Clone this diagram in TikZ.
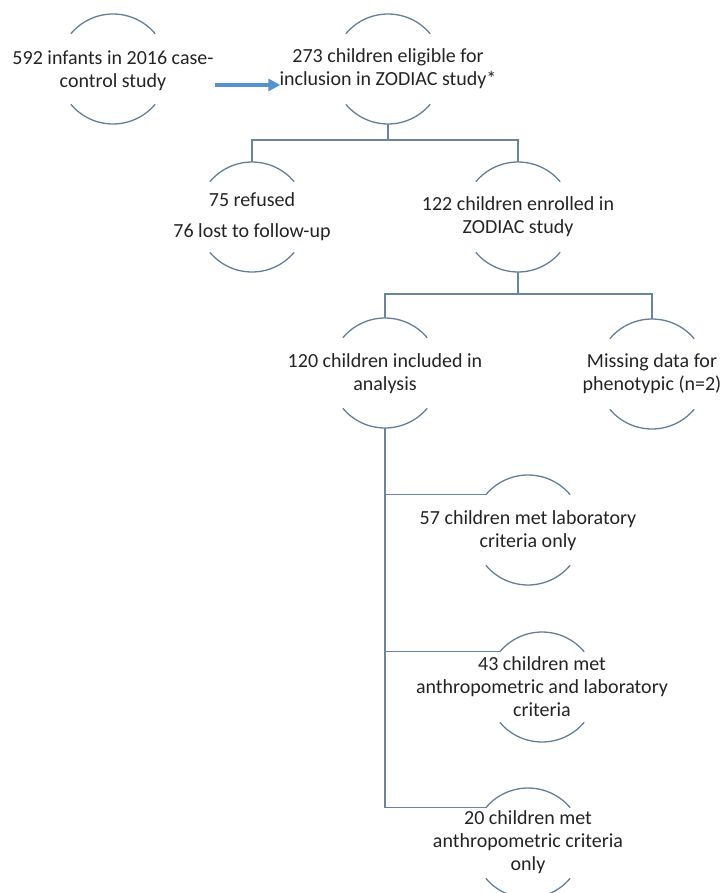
\documentclass[tikz,border=0pt]{standalone}
\usepackage{fontspec}
\setmainfont{Carlito}
\usetikzlibrary{arrows.meta}
\definecolor{linec}{RGB}{104,132,160}
\definecolor{arcc}{RGB}{100,126,152}
\definecolor{arrowc}{RGB}{84,146,208}
\definecolor{txtc}{RGB}{35,35,35}
\tikzset{
  ring/.style={circle,minimum size=110pt,inner sep=0pt,outer sep=0pt},
  lbl/.style={align=center,text=txtc,font=\fontsize{20}{23}\selectfont,inner sep=1pt},
  arcline/.style={draw=arcc,line width=1.3pt},
  conn/.style={draw=linec,line width=1.6pt},
  bigarrow/.style={draw=arrowc,line width=4pt,-{Triangle[length=12pt,width=12pt]}}
}
\newcommand\ringnode[4]{%
  \node[ring] (#1) at (#2) {};
  \node[lbl] (#1t) at (#3) {#4};
  \draw[arcline] (#1.40) arc[start angle=40,end angle=140,radius=55pt];
  \draw[arcline] (#1.220) arc[start angle=220,end angle=320,radius=55pt];
}
\begin{document}
\begin{tikzpicture}[x=1pt,y=-1pt]
\useasboundingbox (0,0) rectangle (722,893);
\clip (0,0) rectangle (722,893);
\ringnode{n1}{113,69}{113,71}{592 infants in 2016 case-\\control study}
\ringnode{n2}{388,69}{388,69}{273 children eligible for\\inclusion in ZODIAC study*}
\ringnode{n3}{252,217}{252,217}{75 refused\\[8pt]76 lost to follow-up}
\ringnode{n4}{518,217}{518,217}{122 children enrolled in\\ZODIAC study}
\ringnode{n5}{385,373}{385,374}{120 children included in\\analysis}
\ringnode{n6}{652,374}{652,374}{Missing data for\\phenotypic (n=2)}
\ringnode{n7}{528,530}{528,531}{57 children met laboratory\\criteria only}
\ringnode{n8}{542,687}{542,687}{43 children met\\anthropometric and laboratory\\criteria}
\ringnode{n9}{528,843}{528,842}{20 children met\\anthropometric criteria\\only}
% arrow
\draw[bigarrow] (n1t.east |- 0,85) -- ([xshift=2pt]n2t.west |- 0,85);
% tree connectors
\draw[conn] (n2.south) -- ++(0,16) coordinate (s1) -| (n3.north);
\draw[conn] (s1) -| (n4.north);
\draw[conn] (n4.south) -- ++(0,22) coordinate (s2) -| (n5.north);
\draw[conn] (s2) -| (n6.north);
\draw[conn] (n5.south) |- (n9.140);
\draw[conn] (n5.south) |- (n7.140);
\draw[conn] (n5.south) |- (n8.140);
\end{tikzpicture}
\end{document}
